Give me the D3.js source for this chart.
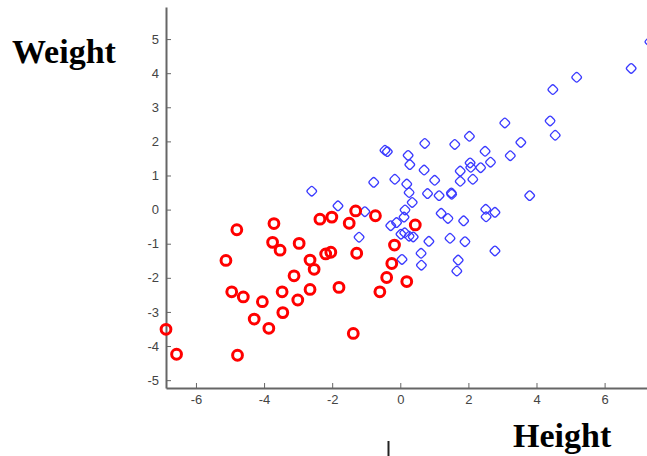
<!DOCTYPE html>
<html>
<head>
<meta charset="utf-8">
<script src="https://cdn.jsdelivr.net/npm/d3@7"></script>
<style>
  html, body { margin: 0; padding: 0; background: #fff; overflow: hidden; }
  .axis text { font-family: "Liberation Sans", Arial, sans-serif; font-size: 13px; fill: #444; }
  .axis path, .axis line { stroke: #666; }
  .label { font-family: "Liberation Serif", "Times New Roman", serif; font-weight: bold; font-size: 34px; fill: #000; }
</style>
</head>
<body>
<div id="chart"></div>
<script>
// ------------------------------------------------------------- Data
var redX  = [-6.88, -6.57, -4.80, -5.12, -4.95, -4.61, -4.78, -4.29, -4.05, -3.86,
             -3.71, -3.75, -3.53, -3.47, -3.45, -3.12, -2.97, -3.01, -2.65, -2.53,
             -2.65, -2.36, -2.01, -2.19, -2.04, -1.80, -1.50, -1.31, -1.28, -1.38,
             -0.73, -0.60, -0.40, -0.25, -0.17, 0.44, 0.19];
var redY  = [-3.51, -4.24, -0.59, -1.49, -2.41, -2.56, -4.27, -3.21, -2.70, -3.48,
             -0.41, -0.96, -1.19, -2.41, -3.02, -1.94, -0.99, -2.65, -1.48, -1.75,
             -2.34, -0.28, -0.22, -1.30, -1.25, -2.28, -0.40, -0.04, -1.28, -3.63,
             -0.18, -2.41, -1.99, -1.58, -1.04, -0.45, -2.11];

var blueX = [-2.60, -0.45, -0.38, -0.78, -0.16, -1.83, -1.04, -1.21, -0.28, -0.11,
             0.11, 0.14, 0.35, 0.26, 0.19, 0.28, 0.23, 0.70, 0.72, 1.01,
             0.80, 1.14, 1.50, 1.51, 1.76, 1.76, 2.05, 2.07, 2.13, 2.36,
             1.60, 2.03, 2.49, 2.65, 3.07, 3.54, 3.23, 4.40, 4.55, 4.48,
             5.18, 6.78, 7.33, 3.80, 0.02, 0.13, 0.26, 0.38, 0.05, 0.84,
             0.61, 0.62, 1.20, 1.40, 1.86, 1.46, 1.90, 1.70, 1.66, 2.51,
             2.52, 2.78, 2.78];
var blueY = [0.54, 1.74, 1.70, 0.80, 0.89, 0.11, -0.06, -0.81, -0.47, -0.38,
             -0.22, -0.01, 0.21, 0.50, 0.75, 1.32, 1.59, 1.16, 1.94, 0.86,
             0.47, 0.41, 0.49, 0.45, 1.13, 0.83, 1.37, 1.24, 0.89, 1.23,
             1.91, 2.15, 1.71, 1.39, 2.54, 1.97, 1.58, 2.60, 2.18, 3.52,
             3.88, 4.14, 4.92, 0.41, -0.72, -0.68, -0.78, -0.80, -1.46, -0.93,
             -1.28, -1.63, -0.11, -0.26, -0.33, -0.84, -0.94, -1.48, -1.80, 0.01,
             -0.21, -0.08, -1.21];

var xTicks = [-6, -4, -2, 0, 2, 4, 6];
var yTicks = [-5, -4, -3, -2, -1, 0, 1, 2, 3, 4, 5];
// ------------------------------------------------------------ /Data

var width = 647, height = 456;
var plot = {left: 166, right: 647, top: 7, bottom: 388};

var x = d3.scaleLinear().domain([-6.88, 7.245]).range([plot.left, plot.right]);
var y = d3.scaleLinear().domain([-5.23, 5.94]).range([plot.bottom, plot.top]);

var svg = d3.select('#chart').append('svg')
    .attr('width', width)
    .attr('height', height);

var xAxis = d3.axisBottom(x)
    .tickValues(xTicks)
    .tickSizeInner(-5)
    .tickSizeOuter(0)
    .tickPadding(7)
    .tickFormat(function(d) { return String(d); });

var yAxis = d3.axisLeft(y)
    .tickValues(yTicks)
    .tickSizeInner(-5)
    .tickSizeOuter(0)
    .tickPadding(7)
    .tickFormat(function(d) { return String(d); });

var gx = svg.append('g')
    .attr('class', 'axis')
    .attr('transform', 'translate(0,' + plot.bottom + ')')
    .call(xAxis);
gx.select('.domain').attr('stroke-width', 2);
gx.selectAll('.tick line').attr('stroke-width', 1);

var gy = svg.append('g')
    .attr('class', 'axis')
    .attr('transform', 'translate(' + plot.left + ',0)')
    .call(yAxis);
gy.select('.domain').attr('stroke-width', 2);
gy.selectAll('.tick line').attr('stroke-width', 1);

// blue group: small rounded diamonds
var blue = d3.range(blueX.length).map(function(i) { return {x: blueX[i], y: blueY[i]}; });
svg.append('g').selectAll('rect')
    .data(blue)
  .enter().append('rect')
    .attr('x', -3.9)
    .attr('y', -3.9)
    .attr('width', 7.8)
    .attr('height', 7.8)
    .attr('rx', 2)
    .attr('transform', function(d) { return 'translate(' + x(d.x) + ',' + y(d.y) + ') rotate(45)'; })
    .attr('fill', 'none')
    .attr('stroke', '#3a3aff')
    .attr('stroke-width', 1.3);

// red group: thick circles
var red = d3.range(redX.length).map(function(i) { return {x: redX[i], y: redY[i]}; });
svg.append('g').selectAll('circle')
    .data(red)
  .enter().append('circle')
    .attr('cx', function(d) { return x(d.x); })
    .attr('cy', function(d) { return y(d.y); })
    .attr('r', 4.9)
    .attr('fill', 'none')
    .attr('stroke', '#ff0000')
    .attr('stroke-width', 3);

// axis titles
svg.append('text')
    .attr('class', 'label')
    .attr('x', 12)
    .attr('y', 63)
    .text('Weight');

svg.append('text')
    .attr('class', 'label')
    .attr('x', 513)
    .attr('y', 447)
    .text('Height');

// stray cursor mark under the plot
svg.append('line')
    .attr('x1', 388.5).attr('x2', 388.5)
    .attr('y1', 441).attr('y2', 456)
    .attr('stroke', '#222')
    .attr('stroke-width', 2);
</script>
</body>
</html>
